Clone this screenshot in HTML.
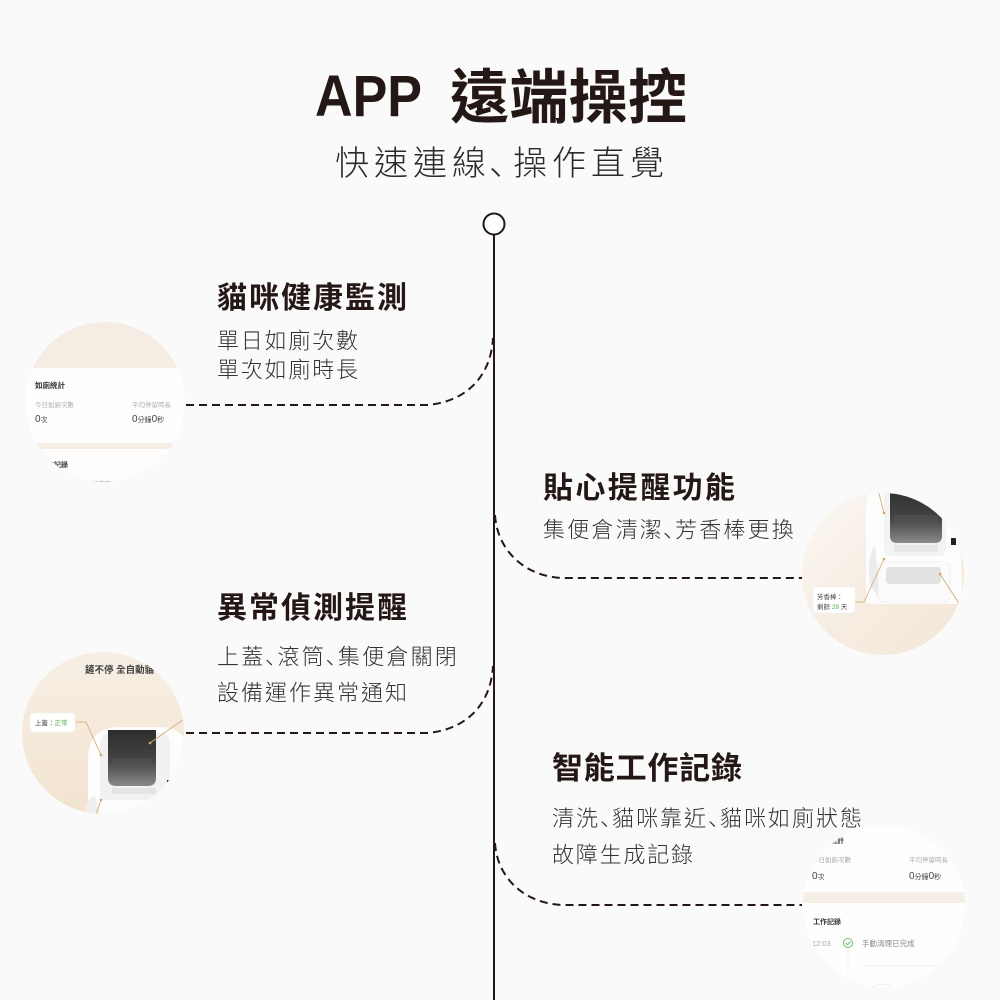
<!DOCTYPE html>
<html>
<head>
<meta charset="utf-8">
<style>
  html,body{margin:0;padding:0;background:#fbfafa;}
  svg{display:block;}
  .h{font-family:"Liberation Sans","Noto Sans CJK TC",sans-serif;font-weight:700;fill:#231815;}
  .b{font-family:"Liberation Sans","Noto Sans CJK TC",sans-serif;font-weight:300;fill:#333;}
  .s{font-family:"Liberation Sans","Noto Sans CJK TC",sans-serif;}
  .jp{font-family:"Noto Sans CJK JP",sans-serif;}
</style>
</head>
<body>
<svg width="1000" height="1000" viewBox="0 0 1000 1000" xmlns="http://www.w3.org/2000/svg">
  <defs>
    <clipPath id="c1"><circle cx="105" cy="402" r="80"/></clipPath>
    <clipPath id="c2"><circle cx="103" cy="733" r="81"/></clipPath>
    <clipPath id="c3"><circle cx="883" cy="574" r="81"/></clipPath>
    <clipPath id="c4"><circle cx="884" cy="906" r="81"/></clipPath>
    <linearGradient id="win" x1="0" y1="0" x2="0" y2="1">
      <stop offset="0" stop-color="#2e2e2e"/>
      <stop offset="0.55" stop-color="#444"/>
      <stop offset="1" stop-color="#8a8a8a"/>
    </linearGradient>
    <linearGradient id="bg3" x1="0" y1="0" x2="1" y2="1">
      <stop offset="0" stop-color="#fbf8f4"/>
      <stop offset="0.5" stop-color="#f6ede2"/>
      <stop offset="1" stop-color="#f3e6d5"/>
    </linearGradient>
    <linearGradient id="bg2" x1="0" y1="0" x2="0" y2="1">
      <stop offset="0" stop-color="#f7efe5"/>
      <stop offset="1" stop-color="#f2e3cf"/>
    </linearGradient>
  </defs>

  <rect width="1000" height="1000" fill="#fbfafa"/>

  <!-- Title -->
  <text class="h" x="315" y="116" font-size="58" textLength="107" lengthAdjust="spacingAndGlyphs">APP</text>
  <text class="h" x="450" y="118" font-size="59" textLength="237" lengthAdjust="spacing">遠端操控</text>
  <text class="b" y="175" font-size="34" style="fill:#2a2a2a"><tspan x="335 374 413 452">快速連線</tspan><tspan class="jp" x="489">、</tspan><tspan x="513 552 591 630">操作直覺</tspan></text>

  <!-- Circle 1 : stats -->
  <g clip-path="url(#c1)">
    <rect x="20" y="320" width="170" height="170" fill="#f5ede3"/>
    <rect x="20" y="368" width="170" height="75" fill="#fefefe"/>
    <rect x="20" y="449" width="170" height="50" fill="#fefdfc"/>
    <text class="s" x="35" y="388" font-size="7.5" font-weight="700" fill="#333">如廁統計</text>
    <text class="s" x="35" y="407" font-size="6.5" fill="#b0b0b0">今日如廁次數</text>
    <text class="s" x="132" y="407" font-size="6.5" fill="#b0b0b0">平均停留時長</text>
    <text class="s" x="35" y="422" font-size="10" fill="#444">0<tspan font-size="7">次</tspan></text>
    <text class="s" x="132" y="422" font-size="10" fill="#444">0<tspan font-size="7">分鐘</tspan>0<tspan font-size="7">秒</tspan></text>
    <text class="s" x="40" y="467" font-size="7" font-weight="700" fill="#333">工作記錄</text>
    <text class="s" x="85" y="486" font-size="6.5" fill="#999">一鍵清理</text>
  </g>

  <!-- Circle 2 : device, lid -->
  <g clip-path="url(#c2)">
    <rect x="15" y="645" width="180" height="180" fill="url(#bg2)"/>
    <text class="s" x="85" y="673" font-size="9.5" fill="#444" font-weight="700">鏟不停 全自動貓</text>
    <path d="M88 815 L88 760 Q88 728 118 727 L160 727 Q190 728 190 760 L190 815 Z" fill="#fdfdfd"/>
    <path d="M100 800 L100 745 Q100 733 112 733 L160 733 Q170 733 170 745 L170 800 Z" fill="#f1f1f1"/>
    <path d="M108 730 L156 730 L156 778 Q156 786 148 786 L116 786 Q108 786 108 778 Z" fill="url(#win)"/>
    <rect x="112" y="758" width="40" height="10" fill="#555" opacity="0.6"/>
    <rect x="112" y="788" width="44" height="6" fill="#e4e4e4"/>
    <path d="M85 815 Q85 800 95 795 L100 815 Z" fill="#eee"/>
    <polyline points="76,722 86,722 101,755" fill="none" stroke="#d3a56f" stroke-width="0.8"/>
    <circle cx="101" cy="755" r="1.3" fill="#d3a56f"/>
    <polyline points="190,719 184,719 150,743" fill="none" stroke="#d3a56f" stroke-width="0.8"/>
    <circle cx="150" cy="743" r="1.3" fill="#d3a56f"/>
    <line x1="101" y1="800" x2="96" y2="815" stroke="#d3a56f" stroke-width="0.8"/>
    <circle cx="101" cy="800" r="1.3" fill="#d3a56f"/>
    <path d="M167 780 L173 780 L167 786 Z" fill="#222"/>
    <rect x="30" y="713" width="45" height="19" rx="3" fill="#fff" stroke="#eee" stroke-width="0.5"/>
    <text class="s" x="35" y="725" font-size="6.5" fill="#444">上蓋：<tspan fill="#4caf50">正常</tspan></text>
  </g>

  <!-- Circle 3 : device, scent -->
  <g clip-path="url(#c3)">
    <rect x="800" y="490" width="170" height="170" fill="url(#bg3)"/>
    <path d="M866 600 L866 510 Q866 490 880 488 L960 488 L962 600 Q962 604 950 604 L878 604 Q866 604 866 600 Z" fill="#fdfdfd"/>
    <path d="M870 585 Q866 560 875 545 L880 600 Z" fill="#ececec"/>
    <path d="M884 488 L946 488 L946 548 Q946 556 938 556 L892 556 Q884 556 884 548 Z" fill="#f3f3f3"/>
    <path d="M890 488 L942 488 L942 536 Q942 543 935 543 L897 543 Q890 543 890 536 Z" fill="url(#win)"/>
    <rect x="894" y="515" width="44" height="10" fill="#555" opacity="0.5"/>
    <rect x="894" y="545" width="44" height="7" fill="#e6e6e6"/>
    <path d="M878 566 Q878 562 886 562 L942 562 Q950 562 950 566 L950 596 Q950 603 940 603 L888 603 Q878 603 878 596 Z" fill="#fbfbfb" stroke="#e8e8e8" stroke-width="0.6"/>
    <rect x="886" y="567" width="55" height="17" rx="4" fill="#e2e2e2"/>
    <rect x="951" y="538" width="5" height="7" fill="#222"/>
    <polyline points="876,482 884,513" fill="none" stroke="#d3a56f" stroke-width="0.8"/>
    <circle cx="884" cy="513" r="1.3" fill="#d3a56f"/>
    <polyline points="855,602 864,602 884,559" fill="none" stroke="#d3a56f" stroke-width="0.8"/>
    <circle cx="884" cy="559" r="1.3" fill="#d3a56f"/>
    <line x1="940" y1="574" x2="960" y2="605" stroke="#d3a56f" stroke-width="0.8"/>
    <circle cx="940" cy="574" r="1.3" fill="#d3a56f"/>
    <rect x="813" y="587" width="42" height="26" rx="3" fill="#fff" stroke="#eee" stroke-width="0.5"/>
    <text class="s" x="817" y="599" font-size="6.5" fill="#444">芳香棒：</text>
    <text class="s" x="817" y="609" font-size="6.5" fill="#444">剩餘 <tspan fill="#4caf50">29</tspan> 天</text>
  </g>

  <!-- Circle 4 : work log -->
  <g clip-path="url(#c4)">
    <rect x="800" y="820" width="170" height="170" fill="#fefefe"/>
    <rect x="800" y="892" width="170" height="11" fill="#f6efe6"/>
    <text class="s" x="830" y="843" font-size="7" font-weight="700" fill="#333">統計</text>
    <text class="s" x="812" y="862" font-size="6.5" fill="#aaa">今日如廁次數</text>
    <text class="s" x="909" y="862" font-size="6.5" fill="#aaa">平均停留時長</text>
    <text class="s" x="812" y="879" font-size="10" fill="#444">0<tspan font-size="7">次</tspan></text>
    <text class="s" x="909" y="879" font-size="10" fill="#444">0<tspan font-size="7">分鐘</tspan>0<tspan font-size="7">秒</tspan></text>
    <text class="s" x="813" y="924" font-size="7" font-weight="700" fill="#333">工作記錄</text>
    <text class="s" x="812" y="946" font-size="7.5" fill="#aaa">12:03</text>
    <circle cx="848" cy="943" r="4.5" fill="none" stroke="#6cc070" stroke-width="1"/>
    <path d="M845.8 943 L847.5 944.8 L850.5 941.5" fill="none" stroke="#6cc070" stroke-width="1"/>
    <text class="s" x="862" y="946" font-size="7.5" fill="#888">手動清理已完成</text>
    <line x1="848" y1="950" x2="848" y2="972" stroke="#ddd" stroke-width="0.8" stroke-dasharray="2 2"/>
    <line x1="862" y1="966" x2="950" y2="966" stroke="#eee" stroke-width="1"/>
    <circle cx="882" cy="1000" r="16" fill="none" stroke="#eee" stroke-width="1"/>
  </g>

  <!-- Timeline -->
  <line x1="494" y1="235" x2="494" y2="1000" stroke="#231815" stroke-width="2"/>
  <circle cx="494" cy="224" r="10.5" fill="#fff" stroke="#231815" stroke-width="2"/>

  <!-- Connectors -->
  <g fill="none" stroke="#231815" stroke-width="2" stroke-dasharray="8 5">
    <path d="M186 405 L428 405 C468 401 491 375 493 338"/>
    <path d="M186 733 L428 733 C468 729 491 703 493 666"/>
    <path d="M495 515 C497 548 522 576 562 578 L802 578"/>
    <path d="M495 843 C497 876 522 903 562 905 L802 905"/>
  </g>

  <!-- Section 1 -->
  <text class="h" x="217" y="308" font-size="30" textLength="190" lengthAdjust="spacing">貓咪健康監測</text>
  <text class="b" x="217" y="348.5" font-size="22" textLength="141" lengthAdjust="spacing">單日如廁次數</text>
  <text class="b" x="217" y="377.5" font-size="22" textLength="141" lengthAdjust="spacing">單次如廁時長</text>

  <!-- Section 2 -->
  <text class="h" x="543" y="498" font-size="30" textLength="192" lengthAdjust="spacing">貼心提醒功能</text>
  <text class="b" y="537.5" font-size="22"><tspan x="543 567.2 591.4 615.6 639.8">集便倉清潔</tspan><tspan class="jp" x="663">、</tspan><tspan x="675 699.2 723.4 747.6 771.8">芳香棒更換</tspan></text>

  <!-- Section 3 -->
  <text class="h" x="217" y="618" font-size="30" textLength="190" lengthAdjust="spacing">異常偵測提醒</text>
  <text class="b" y="664.5" font-size="22"><tspan x="217 241.2">上蓋</tspan><tspan class="jp" x="265">、</tspan><tspan x="277.5 301.7">滾筒</tspan><tspan class="jp" x="325.5">、</tspan><tspan x="338 362.2 386.4 410.6 434.8">集便倉關閉</tspan></text>
  <text class="b" x="217" y="700.5" font-size="22" textLength="190" lengthAdjust="spacing">設備運作異常通知</text>

  <!-- Section 4 -->
  <text class="h" x="552" y="779" font-size="31" textLength="190" lengthAdjust="spacing">智能工作記錄</text>
  <text class="b" y="826" font-size="22"><tspan x="552 576">清洗</tspan><tspan class="jp" x="600">、</tspan><tspan x="612 636 660 684">貓咪靠近</tspan><tspan class="jp" x="708">、</tspan><tspan x="720 744 768 792 816 840">貓咪如廁狀態</tspan></text>
  <text class="b" x="552" y="862.5" font-size="22" textLength="141" lengthAdjust="spacing">故障生成記錄</text>
</svg>
</body>
</html>
